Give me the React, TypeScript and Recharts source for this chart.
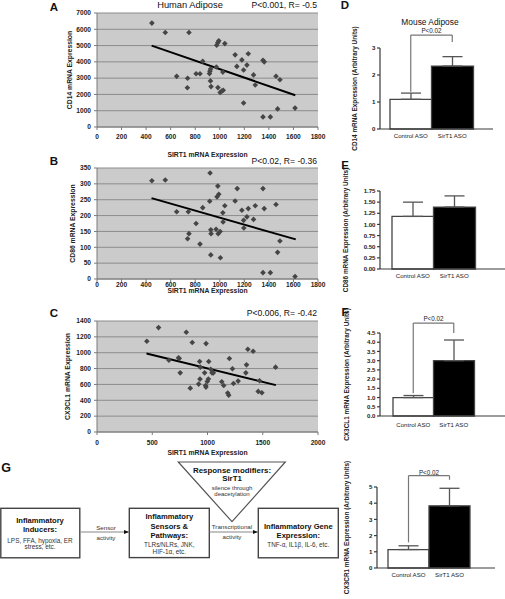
import React from 'react';
import {
  ScatterChart, Scatter, XAxis, YAxis, CartesianGrid, ReferenceLine,
  BarChart, Bar, Cell, ErrorBar, Label,
} from 'recharts';

// ---------- Human adipose scatter data ----------
const sirt1A = [447, 556, 749, 649, 738, 736, 807, 839, 861, 916, 920, 925, 924, 929, 972, 985, 975, 984, 992, 1003, 1015, 1028, 1025, 1041, 1125, 1139, 1180, 1194, 1221, 1232, 1194, 1275, 1289, 1352, 1362, 1352, 1412, 1458, 1490, 1471, 1613];
const cd14 = [6380, 5800, 5800, 3110, 2990, 2410, 3270, 3270, 4030, 3280, 3430, 3560, 2830, 2480, 3680, 2420, 5020, 5180, 5290, 2120, 2200, 2260, 3370, 5120, 4430, 3720, 4120, 3500, 3800, 4500, 1470, 3200, 2580, 4100, 4000, 620, 620, 3120, 2900, 1110, 1160];
const trendA = [{ x: 445, y: 5000 }, { x: 1615, y: 1950 }];

const sirt1B = [447, 556, 649, 744, 749, 738, 807, 839, 861, 921, 918, 927, 929, 927, 970, 984, 992, 978, 987, 1003, 1005, 1025, 1027, 1041, 1125, 1142, 1180, 1194, 1196, 1221, 1232, 1275, 1289, 1352, 1362, 1458, 1490, 1471, 1352, 1412, 1613];
const cd86 = [310, 312, 212, 212, 143, 127, 175, 110, 225, 334, 245, 155, 143, 76, 157, 293, 267, 259, 143, 150, 67, 209, 180, 231, 246, 285, 217, 185, 161, 196, 222, 188, 231, 285, 222, 235, 120, 84, 20, 20, 8];
const trendB = [{ x: 444, y: 255 }, { x: 1619, y: 125 }];

const sirt1C = [451, 557, 651, 738, 744, 753, 808, 844, 862, 920, 929, 932, 935, 974, 983, 986, 987, 998, 1008, 1011, 1029, 1041, 1053, 1129, 1147, 1183, 1192, 1198, 1226, 1235, 1277, 1347, 1353, 1365, 1413, 1471, 1459, 1492, 1616];
const cx3cl1 = [1145, 1317, 906, 935, 927, 746, 1258, 553, 1128, 604, 889, 667, 818, 746, 587, 566, 1115, 637, 667, 889, 792, 746, 746, 633, 587, 491, 465, 927, 797, 612, 642, 746, 847, 1044, 1019, 646, 512, 495, 818];
const trendC = [{ x: 448, y: 990 }, { x: 1619, y: 591 }];

const xTicks1800 = [0, 200, 400, 600, 800, 1000, 1200, 1400, 1600, 1800];
const xTicks2000 = [0, 500, 1000, 1500, 2000];
const yTicksA = [0, 1000, 2000, 3000, 4000, 5000, 6000, 7000];
const yTicksB = [0, 50, 100, 150, 200, 250, 300, 350];
const yTicksC = [0, 200, 400, 600, 800, 1000, 1200, 1400];

// ---------- Mouse adipose bar data ----------
const groups = ['Control ASO', 'SirT1 ASO'];
const cd14Mouse = [1.1, 2.33];
const cd14MouseErr = [0.23, 0.35];
const cd86Mouse = [1.18, 1.39];
const cd86MouseErr = [0.32, 0.25];
const cx3cl1Mouse = [1.0, 3.0];
const cx3cl1MouseErr = [0.11, 1.12];
const cx3cr1Mouse = [1.14, 3.84];
const cx3cr1MouseErr = [0.23, 1.08];
const yTicksD = [0, 1, 2, 3];
const yTicksE = [0, 0.25, 0.5, 0.75, 1.0, 1.25, 1.5, 1.75];
const yTicksF = [0, 0.5, 1, 1.5, 2, 2.5, 3, 3.5, 4, 4.5];
const yTicksH = [0, 1, 2, 3, 4, 5];

const FONT = '"Liberation Sans", Arial, sans-serif';

const Diamond = (p: any) => {
  const { cx, cy } = p;
  if (cx == null || cy == null) return null;
  const r = 2.8;
  return <path d={`M${cx},${cy - r}L${cx + r},${cy}L${cx},${cy + r}L${cx - r},${cy}Z`} fill="#454545" />;
};

function ScatterPanel(props: any) {
  const { left, top, width, height, margin, xs, ys, trend, xMax, xTicks, yMax, yTicks, yLabel,
    xAxisHeight, tickMargin, xLabelOffset, yLabelOffset } = props;
  const data = xs.map((x: number, i: number) => ({ x, y: ys[i] }));
  const tick = { fontSize: 6.6, fontWeight: 'bold', fill: '#222' };
  return (
    <div style={{ position: 'absolute', left, top }}>
      <ScatterChart width={width} height={height} margin={margin}>
        <CartesianGrid vertical={false} stroke="#8c8c8c" fill="#cbcbcb" />
        <XAxis type="number" dataKey="x" domain={[0, xMax]} ticks={xTicks} interval={0}
          height={xAxisHeight} tickSize={3} tickMargin={tickMargin} stroke="#7a7a7a" tick={tick}>
          <Label value="SIRT1 mRNA Expression" position="insideBottom" offset={xLabelOffset}
            fontSize={6.8} fontWeight="bold" fill="#222" />
        </XAxis>
        <YAxis type="number" dataKey="y" domain={[0, yMax]} ticks={yTicks} interval={0}
          width={35} tickSize={3} tickMargin={3} stroke="#7a7a7a" tick={tick}>
          <Label value={yLabel} angle={-90} position="insideLeft" offset={yLabelOffset}
            fontSize={6.8} fontWeight="bold" fill="#222" style={{ textAnchor: 'middle' }} />
        </YAxis>
        <Scatter data={data} shape={Diamond} isAnimationActive={false} />
        <ReferenceLine segment={trend} stroke="#000" strokeWidth={2} ifOverflow="visible" />
      </ScatterChart>
    </div>
  );
}

function BarPanel(props: any) {
  const { left, top, width, height, margin, values, errs, yMax, yTicks, fmt, yLabel, xPad,
    xAxisHeight, yAxisWidth, yLabelOffset, catMargin, bracket } = props;
  const data = groups.map((g, i) => ({ name: g, v: values[i], e: [0, errs[i]] }));
  const br: any[] = [];
  if (bracket) {
    const common = { stroke: '#777', strokeWidth: 1.2, ifOverflow: 'visible' as const };
    br.push(<ReferenceLine key="l" segment={[{ x: groups[0], y: bracket.left }, { x: groups[0], y: bracket.top }]} {...common} />);
    br.push(<ReferenceLine key="r" segment={[{ x: groups[1], y: bracket.right }, { x: groups[1], y: bracket.top }]} {...common} />);
    br.push(
      <ReferenceLine key="t" segment={[{ x: groups[0], y: bracket.top }, { x: groups[1], y: bracket.top }]} {...common}>
        <Label value="P<0.02" position="top" offset={bracket.labelOffset} fontSize={6.3} fill="#222" />
      </ReferenceLine>
    );
  }
  return (
    <div style={{ position: 'absolute', left, top }}>
      <BarChart width={width} height={height} margin={margin} data={data} barCategoryGap={0} barGap={0}>
        <XAxis dataKey="name" padding={xPad} height={xAxisHeight} tickLine={false} tickSize={0}
          tickMargin={catMargin} stroke="#3a3a3a" strokeWidth={1.2} interval={0}
          tick={{ fontSize: 6.1, fill: '#222' }} />
        <YAxis domain={[0, yMax]} ticks={yTicks} interval={0} width={yAxisWidth} tickFormatter={fmt}
          tickSize={3} tickMargin={1.5} stroke="#3a3a3a" strokeWidth={1.2}
          tick={{ fontSize: 6.1, fontWeight: 'bold', fill: '#222' }}>
          <Label value={yLabel} angle={-90} position="insideLeft" offset={yLabelOffset}
            fontSize={6.4} fontWeight="bold" fill="#222" style={{ textAnchor: 'middle' }} />
        </YAxis>
        <Bar dataKey="v" stroke="#444" strokeWidth={1.3} isAnimationActive={false}>
          {data.map((d, i) => <Cell key={d.name} fill={i === 0 ? '#ffffff' : '#000000'} />)}
          <ErrorBar dataKey="e" width={10} stroke="#555" strokeWidth={1.3} direction="y" />
        </Bar>
        {br}
      </BarChart>
    </div>
  );
}

const T = (p: any) => (
  <text x={p.x} y={p.y} fontSize={p.s} fontWeight={p.b ? 'bold' : 'normal'} textAnchor={p.a || 'middle'}
    dominantBaseline="central" fill={p.c || '#111'}>{p.children}</text>
);

function Diagram() {
  return (
    <svg width={505} height={599} style={{ position: 'absolute', left: 0, top: 0, pointerEvents: 'none' }}
      fontFamily={FONT}>
      <defs>
        <marker id="ah" markerWidth="5" markerHeight="5" refX="4.5" refY="2.5" orient="auto" markerUnits="userSpaceOnUse">
          <path d="M0,0.5 L5,2.5 L0,4.5 Z" fill="#111" />
        </marker>
      </defs>
      {/* panel letters and titles */}
      <T x={54} y={7} s={11.5} b>A</T>
      <T x={190} y={5} s={9.3}>Human Adipose</T>
      <T x={317} y={5} s={8.6} a="end">P&lt;0.001, R= -0.5</T>
      <T x={54} y={161} s={11.5} b>B</T>
      <T x={317} y={161} s={8.6} a="end">P&lt;0.02, R= -0.36</T>
      <T x={54} y={313} s={11.5} b>C</T>
      <T x={317} y={313} s={8.6} a="end">P&lt;0.006, R= -0.42</T>
      <T x={345} y={5} s={11.5} b>D</T>
      <T x={430} y={22} s={8.4}>Mouse Adipose</T>
      <T x={345} y={165} s={11.5} b>E</T>
      <T x={345} y={312} s={11.5} b>F</T>
      <T x={6} y={468} s={12.5} b>G</T>

      {/* diagram G */}
      <polygon points="178.3,462 285.3,462 232,521.7" fill="#fff" stroke="#555" strokeWidth={1.2} />
      <T x={232} y={470} s={7.9} b>Response modifiers:</T>
      <T x={232} y={478} s={7.9} b>SirT1</T>
      <T x={232} y={487.5} s={6} c="#333">silence through</T>
      <T x={232} y={493.5} s={6} c="#333">deacetylation</T>

      <rect x={0.8} y={508.3} width={79} height={49.5} fill="#fff" stroke="#444" strokeWidth={1.4} />
      <T x={40} y={520.7} s={7.6} b>Inflammatory</T>
      <T x={40} y={529.3} s={7.6} b>Inducers:</T>
      <T x={40} y={540} s={6.4} c="#333">LPS, FFA, hypoxia, ER</T>
      <T x={40} y={546.5} s={6.4} c="#333">stress, etc.</T>

      <line x1={80.5} y1={532} x2={128.5} y2={532} stroke="#888" strokeWidth={1.2} markerEnd="url(#ah)" />
      <T x={106} y={527} s={6.2} c="#333">Sensor</T>
      <T x={106} y={537} s={6.2} c="#333">activity</T>

      <rect x={129.3} y={508.3} width={80} height={49.3} fill="#fff" stroke="#444" strokeWidth={1.4} />
      <T x={169.3} y={516.7} s={7.6} b>Inflammatory</T>
      <T x={169.3} y={526.3} s={7.6} b>Sensors &amp;</T>
      <T x={169.3} y={535} s={7.6} b>Pathways:</T>
      <T x={169.3} y={544} s={6.4} c="#333">TLRs/NLRs, JNK,</T>
      <T x={169.3} y={551.5} s={6.4} c="#333">HIF-1α, etc.</T>

      <line x1={209.5} y1={532} x2={257.5} y2={532} stroke="#888" strokeWidth={1.2} markerEnd="url(#ah)" />
      <T x={232} y={526.7} s={6.2} c="#333">Transcriptional</T>
      <T x={232} y={536} s={6.2} c="#333">activity</T>

      <rect x={258.3} y={508.3} width={80} height={49.5} fill="#fff" stroke="#444" strokeWidth={1.4} />
      <T x={298.3} y={526.3} s={7.6} b>Inflammatory Gene</T>
      <T x={298.3} y={535.7} s={7.6} b>Expression:</T>
      <T x={298.3} y={544.3} s={6.3} c="#333">TNF-α, IL1β, IL-6, etc.</T>
    </svg>
  );
}

export default function App() {
  return (
    <div style={{ position: 'absolute', left: 0, top: 0, width: 505, height: 599, background: '#fff',
      fontFamily: FONT, overflow: 'hidden' }}>
      <ScatterPanel left={0} top={0} width={330} height={160}
        margin={{ top: 13, right: 12, left: 62, bottom: 0 }}
        xs={sirt1A} ys={cd14} trend={trendA} xMax={1800} xTicks={xTicks1800} yMax={7000} yTicks={yTicksA}
        yLabel="CD14 mRNA Expression" xAxisHeight={33} tickMargin={4.5} xLabelOffset={2.6} yLabelOffset={8} />
      <ScatterPanel left={0} top={150} width={330} height={146}
        margin={{ top: 18, right: 12, left: 62, bottom: 0 }}
        xs={sirt1B} ys={cd86} trend={trendB} xMax={1800} xTicks={xTicks1800} yMax={350} yTicks={yTicksB}
        yLabel="CD86 mRNA Expression" xAxisHeight={17} tickMargin={0} xLabelOffset={2.6} yLabelOffset={11} />
      <ScatterPanel left={0} top={300} width={330} height={158}
        margin={{ top: 21, right: 12, left: 62, bottom: 0 }}
        xs={sirt1C} ys={cx3cl1} trend={trendC} xMax={2000} xTicks={xTicks2000} yMax={1400} yTicks={yTicksC}
        yLabel="CX3CL1 mRNA Expression" xAxisHeight={26} tickMargin={5.6} xLabelOffset={3.1} yLabelOffset={6} />

      <BarPanel left={340} top={0} width={165} height={160}
        margin={{ top: 48, right: 12, left: 10, bottom: 9 }} values={cd14Mouse} errs={cd14MouseErr}
        yMax={3} yTicks={yTicksD} fmt={(v: number) => String(v)}
        yLabel="CD14 mRNA Expression (Arbitrary Units)" xPad={{ left: 10, right: 20 }}
        xAxisHeight={22} yAxisWidth={30} yLabelOffset={5} catMargin={5}
        bracket={{ left: 1.38, right: 3.22, top: 3.48, labelOffset: 2 }} />
      <BarPanel left={340} top={160} width={165} height={152}
        margin={{ top: 31, right: 0, left: 0, bottom: 25 }} values={cd86Mouse} errs={cd86MouseErr}
        yMax={1.75} yTicks={yTicksE} fmt={(v: number) => v.toFixed(2)}
        yLabel="CD86 mRNA Expression (Arbitrary Units)" xPad={{ left: 12, right: 30 }}
        xAxisHeight={18} yAxisWidth={40} yLabelOffset={6} catMargin={5} />
      <BarPanel left={340} top={290} width={165} height={162}
        margin={{ top: 43, right: 0, left: 0, bottom: 22 }} values={cx3cl1Mouse} errs={cx3cl1MouseErr}
        yMax={4.5} yTicks={yTicksF} fmt={(v: number) => v.toFixed(1)}
        yLabel="CX3CL1 mRNA Expression (Arbitrary Units)" xPad={{ left: 13, right: 31 }}
        xAxisHeight={14} yAxisWidth={40} yLabelOffset={7} catMargin={7}
        bracket={{ left: 1.23, right: 4.5, top: 5.04, labelOffset: 2 }} />
      <BarPanel left={340} top={430} width={165} height={169}
        margin={{ top: 57, right: 10, left: 0, bottom: 0 }} values={cx3cr1Mouse} errs={cx3cr1MouseErr}
        yMax={5} yTicks={yTicksH} fmt={(v: number) => String(v)}
        yLabel="CX3CR1 mRNA Expression (Arbitrary Units)" xPad={{ left: 11, right: 25 }}
        xAxisHeight={31} yAxisWidth={37} yLabelOffset={7} catMargin={5}
        bracket={{ left: 1.58, right: 5.45, top: 5.7, labelOffset: 1 }} />

      <Diagram />
    </div>
  );
}
